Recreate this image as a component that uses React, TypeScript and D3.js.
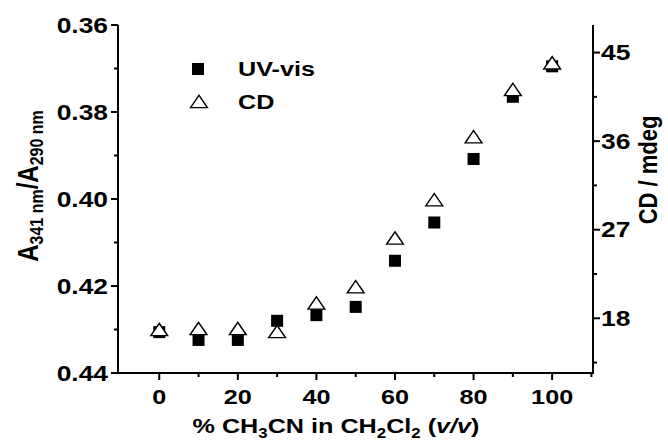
import React from 'react';
import * as d3 from 'd3';

// % CH3CN in CH2Cl2
const xValues = [0, 10, 20, 30, 40, 50, 60, 70, 80, 90, 100];
// A341/A290 (left axis, reversed)
const uvValues = [0.4306, 0.4324, 0.4324, 0.428, 0.4267, 0.4248, 0.4142, 0.4054, 0.3908, 0.3765, 0.3695];
// CD / mdeg (right axis)
const cdValues = [16.8, 16.9, 16.9, 16.6, 19.5, 21.15, 26.1, 30.0, 36.4, 41.2, 43.9];

const xTicks = [0, 20, 40, 60, 80, 100];
const xMinor = [10, 30, 50, 70, 90, 110];
const leftTicks = [0.36, 0.38, 0.40, 0.42, 0.44];
const leftMinor = [0.37, 0.39, 0.41, 0.43];
const rightTicks = [18, 27, 36, 45];
const rightMinor = [13.5, 22.5, 31.5, 40.5];

const W = 668;
const H = 443;
const left = 118;
const right = 593;
const top = 25;
const bottom = 373;
const SX = 1.2; // the source picture is stretched sideways
const font = '"Liberation Sans", Arial, sans-serif';

const x = d3.scaleLinear().domain([-10.5, 110.4]).range([left, right]);
const yL = d3.scaleLinear().domain([0.36, 0.44]).range([top, bottom]);
const yR = d3.scaleLinear().domain([12.44, 47.8]).range([bottom, top]);

const tri = d3.symbol().type(d3.symbolTriangle).size(88);

function T(props: { x: number; y: number; size: number; anchor?: string; rot?: boolean; children: any }) {
  const { x: px, y: py, size, anchor, rot, children } = props;
  return (
    <text
      transform={`translate(${px},${py}) scale(${SX},1)${rot ? ' rotate(-90)' : ''}`}
      fontFamily={font}
      fontWeight="bold"
      fontSize={size}
      textAnchor={anchor || 'start'}
      dominantBaseline="central"
      fill="#000"
    >
      {children}
    </text>
  );
}

export default function App() {
  return (
    <svg width={W} height={H} style={{ position: 'absolute', left: 0, top: 0, background: '#fff' }}>
      {/* axes lines */}
      <g stroke="#000" strokeWidth={2} fill="none">
        <line x1={left} y1={top} x2={left} y2={bottom} />
        <line x1={right} y1={top} x2={right} y2={bottom} />
        <line x1={left - 1} y1={bottom} x2={right + 1} y2={bottom} />
        {xTicks.map(t => <line key={'xt' + t} x1={x(t)} x2={x(t)} y1={bottom} y2={bottom + 7} />)}
        {xMinor.map(t => <line key={'xm' + t} x1={x(t)} x2={x(t)} y1={bottom} y2={bottom + 4} />)}
        {leftTicks.map(t => <line key={'lt' + t} x1={left - 7} x2={left} y1={yL(t)} y2={yL(t)} />)}
        {leftMinor.map(t => <line key={'lm' + t} x1={left - 4} x2={left} y1={yL(t)} y2={yL(t)} />)}
        {rightTicks.map(t => <line key={'rt' + t} x1={right} x2={right + 7} y1={yR(t)} y2={yR(t)} />)}
        {rightMinor.map(t => <line key={'rm' + t} x1={right} x2={right + 4} y1={yR(t)} y2={yR(t)} />)}
      </g>

      {/* tick labels */}
      {xTicks.map(t => <T key={'xl' + t} x={x(t)} y={397} size={21} anchor="middle">{t}</T>)}
      {leftTicks.map(t => <T key={'ll' + t} x={108} y={yL(t)} size={22} anchor="end">{t.toFixed(2)}</T>)}
      {rightTicks.map(t => <T key={'rl' + t} x={601} y={yR(t)} size={22}>{t}</T>)}

      {/* axis titles */}
      <T x={336} y={426} size={21} anchor="middle">
        % CH<tspan fontSize={14} dy={7}>3</tspan><tspan dy={-7}>CN in CH</tspan>
        <tspan fontSize={14} dy={7}>2</tspan><tspan dy={-7}>Cl</tspan>
        <tspan fontSize={14} dy={7}>2</tspan><tspan dy={-7}> (</tspan>
        <tspan fontStyle="italic">v/v</tspan>)
      </T>
      <T x={28} y={186} size={24} anchor="middle" rot>
        A<tspan fontSize={16} dy={7}>341 nm</tspan><tspan dy={-7}>/A</tspan>
        <tspan fontSize={16} dy={7}>290 nm</tspan>
      </T>
      <T x={648} y={170} size={22} anchor="middle" rot>CD / mdeg</T>

      {/* UV-vis squares */}
      {xValues.map((v, i) => (
        <rect key={'s' + v} x={x(v) - 6} y={yL(uvValues[i]) - 6} width={12} height={12} fill="#000" />
      ))}
      {/* CD triangles */}
      {xValues.map((v, i) => (
        <path key={'t' + v} d={tri() || ''} transform={`translate(${x(v)},${yR(cdValues[i]) + 1.5}) scale(1.18,1)`}
          fill="#fff" stroke="#000" strokeWidth={1.3} />
      ))}

      {/* legend */}
      <rect x={192} y={63} width={12} height={12} fill="#000" />
      <path d={tri() || ''} transform={`translate(199,103.5) scale(1.18,1)`} fill="#fff" stroke="#000" strokeWidth={1.3} />
      <T x={238} y={69} size={21}>UV-vis</T>
      <T x={238} y={102} size={21}>CD</T>
    </svg>
  );
}
